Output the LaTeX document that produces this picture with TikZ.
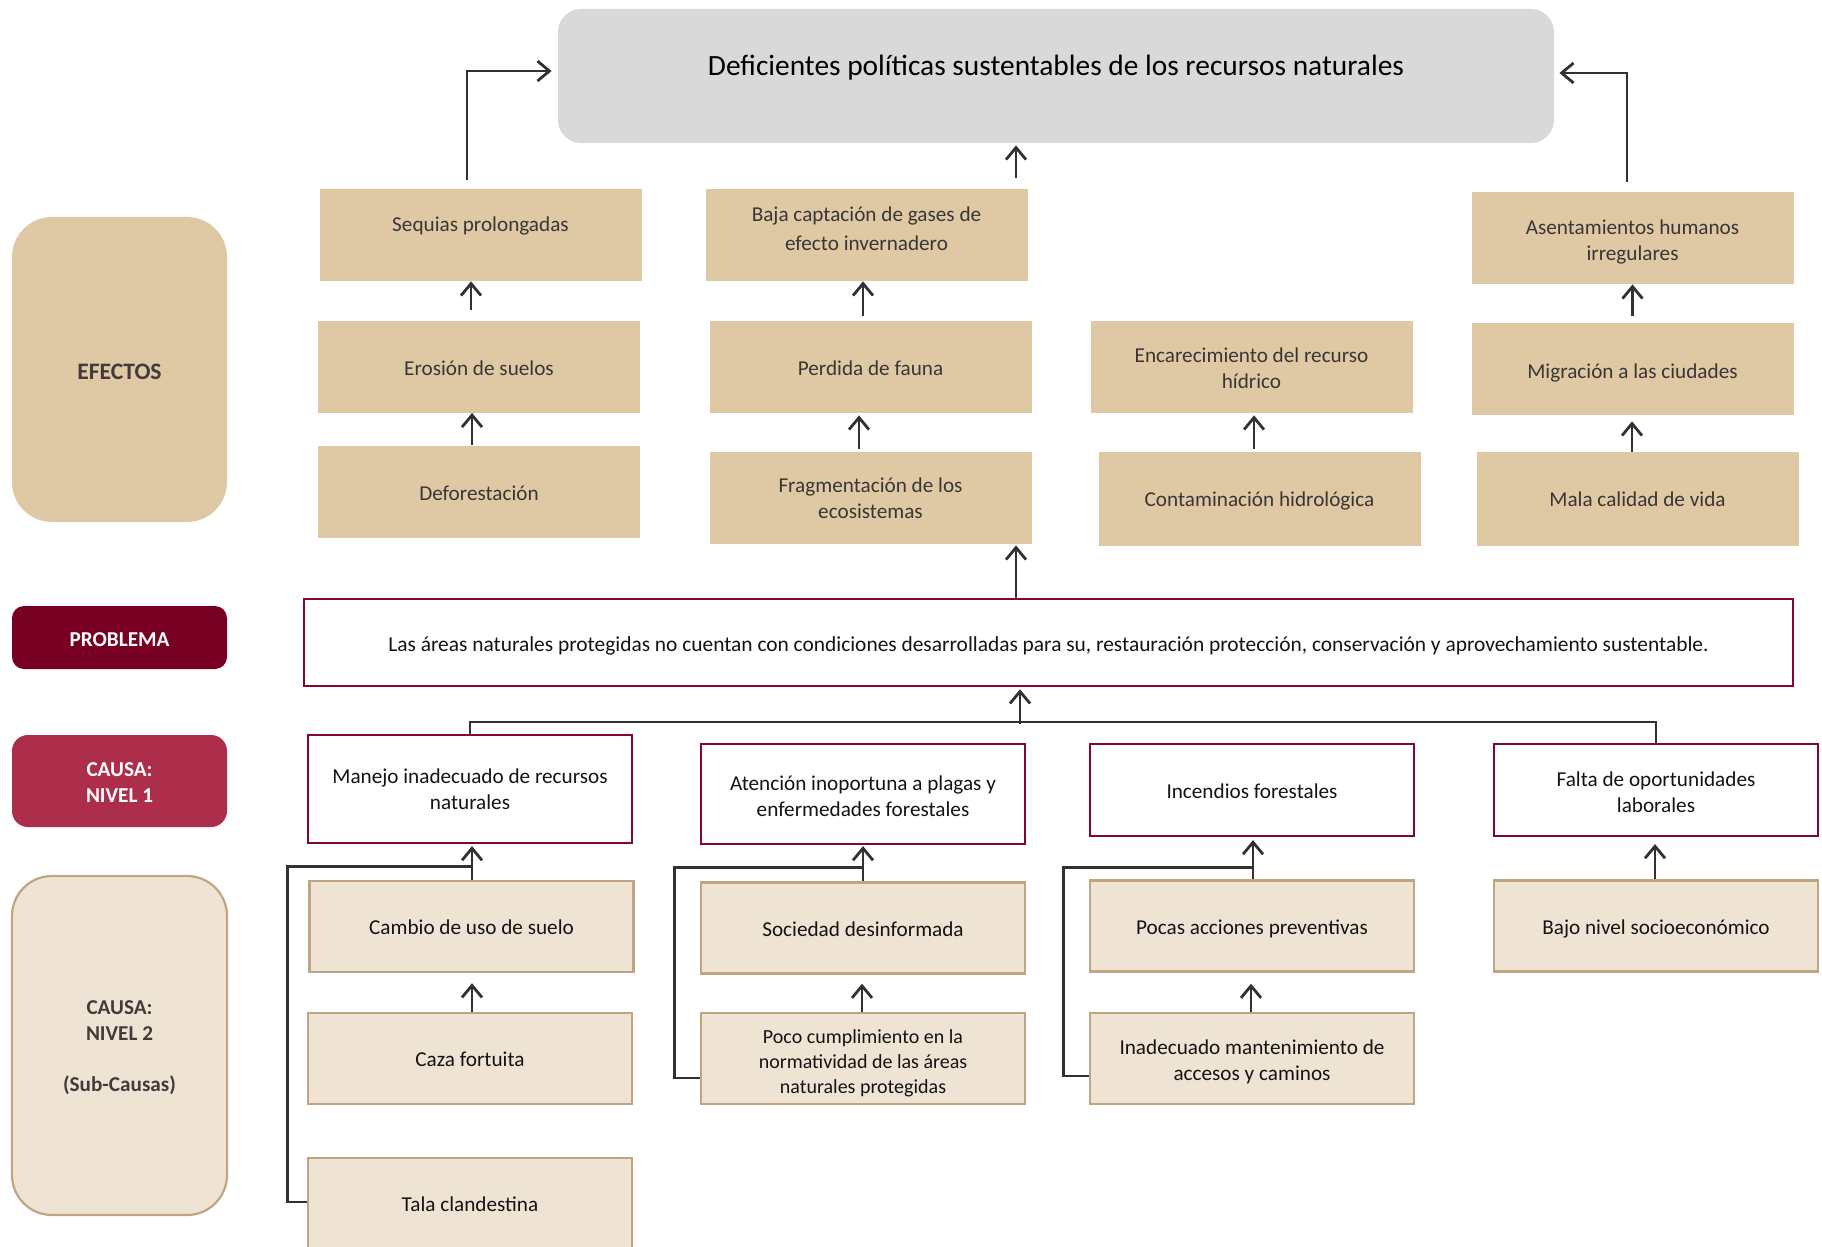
\documentclass[tikz,border=0pt]{standalone}
\usepackage{fontspec}
\setmainfont{Carlito}
\usetikzlibrary{arrows.meta,calc}
\definecolor{tanfill}{HTML}{DEC9A4}
\definecolor{lightfill}{HTML}{EFE4D4}
\definecolor{lightborder}{HTML}{C0A584}
\definecolor{probred}{HTML}{780022}
\definecolor{causered}{HTML}{AC2E4B}
\definecolor{boxred}{HTML}{840628}
\definecolor{titlegray}{HTML}{D9D9D9}
\definecolor{arrowc}{HTML}{333031}
\definecolor{efftext}{HTML}{3B3636}
\definecolor{labeltext}{HTML}{433B3B}
\definecolor{causetext}{HTML}{141414}
\newcommand{\uparr}[5]{%
  \coordinate (tmpS) at ($(#1.north)+(#2,-#3)$);
  \coordinate (tmpE) at ($(#4.south)+(0,#5)$);
  \draw[arr] (tmpS) -- (tmpS |- tmpE);}
\newcommand{\strt}[1]{\rule{0pt}{#1}}
\tikzset{
  arr/.style={draw=arrowc, line width=1.4pt, -{Straight Barb[length=6pt,width=10pt]}},
  conn/.style={draw=arrowc, line width=1.4pt},
  titlebox/.style={rectangle, fill=titlegray, rounded corners=11.5pt, minimum width=498pt,
    minimum height=67pt, font=\fontsize{14.7}{17}\selectfont, text=black, text height=12pt, text depth=12.8pt},
  effbox/.style={rectangle, fill=tanfill, minimum width=161pt, minimum height=46pt, inner sep=2pt,
    align=center, text=efftext, font=\fontsize{10.6}{13}\selectfont, text height=11pt, text depth=2pt},
  c1box/.style={rectangle, fill=white, draw=boxred, line width=1.1pt, minimum width=162pt,
    minimum height=46pt, inner sep=2pt, align=center, text=causetext, font=\fontsize{10.6}{13}\selectfont,
    text height=10.6pt, text depth=2.4pt},
  c2box/.style={rectangle, fill=lightfill, draw=lightborder, line width=1.2pt, minimum width=162pt,
    minimum height=45.5pt, inner sep=2pt, align=center, text=causetext, font=\fontsize{10.6}{13}\selectfont,
    text height=10.6pt, text depth=2.4pt},
  probbox/.style={rectangle, fill=white, draw=boxred, line width=1.3pt, minimum width=744.5pt,
    minimum height=43.5pt, align=center, text=causetext, font=\fontsize{10.7}{13}\selectfont,
    text height=11pt, text depth=2pt},
  lab/.style={rectangle, minimum width=107.5pt, align=center, font=\bfseries\fontsize{10.6}{12.9}\selectfont,
    text height=11pt, text depth=2pt},
  ml/.style={text height=, text depth=},
}
\begin{document}
\begin{tikzpicture}[x=0.5pt,y=-0.5pt]
\useasboundingbox (0,0) rectangle (1822,1247);

% title
\node[titlebox] (title) at (1056,76) {Deficientes políticas sustentables de los recursos naturales};

% left labels
\node[lab, fill=tanfill, rounded corners=20pt, minimum height=152.5pt, text=labeltext,
  font=\bfseries\fontsize{11.8}{14}\selectfont, text height=11.5pt, text depth=1.5pt] (lefe) at (119.5,369.5) {EFECTOS};
\node[lab, fill=probred, rounded corners=6pt, minimum height=31.5pt, text=white] (lprob) at (119.5,637.5) {PROBLEMA};
\node[lab, ml, fill=causered, rounded corners=8pt, minimum height=46pt, text=white] (lc1) at (119.5,781) {\strt{8.1pt}CAUSA:\\NIVEL 1};
\node[lab, ml, fill=lightfill, draw=lightborder, line width=1.1pt, rounded corners=20pt, minimum height=169.5pt,
  text=labeltext] (lc2) at (119.5,1045.5) {\strt{9.2pt}CAUSA:\\NIVEL 2\\[12.9pt](Sub-Causas)};

% effects
\node[effbox, text height=11.5pt, text depth=14.6pt] (seq) at (480.5,235) {Sequias prolongadas};
\node[effbox] (ero) at (479,366.5) {Erosión de suelos};
\node[effbox] (defo) at (479,491.5) {Deforestación};
\node[effbox, ml, text depth=10pt, font=\fontsize{10.6}{14.5}\selectfont] (baja) at (866.5,235) {\strt{10.6pt}Baja captación de gases de\\efecto invernadero};
\node[effbox] (perd) at (870.5,366.5) {Perdida de fauna};
\node[effbox, ml] (frag) at (870.5,498) {Fragmentación de los\\ecosistemas};
\node[effbox, ml] (enc) at (1251.5,366.5) {\strt{9.1pt}Encarecimiento del recurso\\hídrico};
\node[effbox, minimum height=47pt, text height=10.4pt, text depth=2.6pt] (cont) at (1259.5,499) {Contaminación hidrológica};
\node[effbox, ml] (asen) at (1632.5,238) {\strt{11.4pt}Asentamientos humanos\\irregulares};
\node[effbox] (migr) at (1632.5,369) {Migración a las ciudades};
\node[effbox, minimum height=47pt, text height=10.4pt, text depth=2.6pt] (mala) at (1637.5,499) {Mala calidad de vida};

% problem
\node[probbox] (prob) at (1048.5,642.5) {Las áreas naturales protegidas no cuentan con condiciones desarrolladas para su, restauración protección, conservación y aprovechamiento sustentable.};

% causes level 1
\node[c1box, ml, minimum height=54pt] (man) at (470,789) {Manejo inadecuado de recursos\\naturales};
\node[c1box, ml, minimum height=50pt] (aten) at (863,794) {\strt{9.5pt}Atención inoportuna a plagas y\\enfermedades forestales};
\node[c1box] (inc) at (1252,790) {Incendios forestales};
\node[c1box, ml] (falt) at (1656,790) {\strt{9.1pt}Falta de oportunidades\\laborales};

% causes level 2
\node[c2box] (camb) at (471.5,926.5) {Cambio de uso de suelo};
\node[c2box] (caza) at (470,1058.5) {Caza fortuita};
\node[c2box] (tala) at (470,1203.5) {Tala clandestina};
\node[c2box] (soc) at (863,928) {Sociedad desinformada};
\node[c2box, ml, font=\fontsize{10}{12.6}\selectfont] (poco) at (863,1058.5) {\strt{11.9pt}Poco cumplimiento en la\\normatividad de las áreas\\naturales protegidas};
\node[c2box] (pocas) at (1252,926) {Pocas acciones preventivas};
\node[c2box, ml] (inad) at (1252,1058.5) {\strt{10.3pt}Inadecuado mantenimiento de\\accesos y caminos};
\node[c2box] (bajo) at (1656,926) {Bajo nivel socioeconómico};

% effect arrows
\uparr{ero}{-8}{10}{seq}{0}
\uparr{defo}{-7}{0}{ero}{0}
\uparr{perd}{-7.5}{4.5}{baja}{0}
\uparr{frag}{-11.5}{3}{perd}{2.5}
\uparr{cont}{-5.5}{3}{enc}{2.5}
\uparr{migr}{0}{7}{asen}{0}
\uparr{mala}{-5.5}{0}{migr}{6}
\uparr{baja}{149.5}{11}{title}{2}
\uparr{prob}{-32.5}{0}{frag}{1}

\coordinate (sq) at ($(seq.north)+(-13.5,-9)$);
\draw[arr] (sq) |- ($(title.west)+(-6,-5)$);
\coordinate (as) at ($(asen.north)+(-5.5,-10)$);
\draw[arr] (as) |- ($(title.east)+(5,-3)$);

% bus to problem
\draw[conn] (man.north) |- ($(falt.north)+(0,-21)$) -- (falt.north);
\coordinate (busA) at ($(prob.south)+(-28.5,37)$);
\draw[arr] (busA) -- ($(prob.south)+(-28.5,2)$);

% cause arrows
\uparr{camb}{0.5}{0}{man}{2}
\uparr{caza}{2}{0}{camb}{10}
\uparr{soc}{0}{0}{aten}{1}
\uparr{poco}{-1}{0}{soc}{9}
\uparr{pocas}{1}{0}{inc}{3}
\uparr{inad}{-1}{0}{pocas}{11}
\uparr{bajo}{-1}{0}{falt}{7}

% side connectors
\draw[conn] ($(tala.west)+(0,-1.5)$) -- ++(-19,0) |- ($(camb.north)+(0.5,-13)$);
\draw[conn] ($(poco.west)+(0,19.5)$) -- ++(-25,0) |- ($(soc.north)+(0,-14)$);
\draw[conn] ($(inad.west)+(0,17.5)$) -- ++(-25,0) |- ($(pocas.north)+(1,-12)$);
\end{tikzpicture}
\end{document}
